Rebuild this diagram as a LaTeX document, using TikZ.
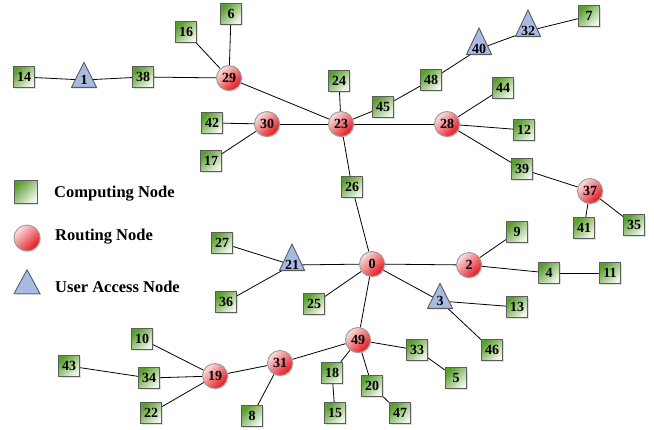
\documentclass[tikz,border=0pt]{standalone}
\usepackage{fontspec}
\setmainfont{Liberation Serif}
\usetikzlibrary{shapes.geometric,shadows}
\definecolor{cgreen}{HTML}{5A9E2F}
\definecolor{cgreenlt}{HTML}{F0F8EA}
\definecolor{cred}{HTML}{E5131B}
\definecolor{credlt}{HTML}{FBE0E0}
\definecolor{cblue}{HTML}{A7BBE3}
\definecolor{cedge}{HTML}{5C5C5C}
\pgfdeclarelayer{bg}
\pgfsetlayers{bg,main}
\tikzset{
  lbl/.style={font=\fontsize{14}{14}\selectfont\bfseries, text=black},
  shade/.style={drop shadow={shadow xshift=1.2pt, shadow yshift=-1.2pt, opacity=0.25}},
  comp/.style={lbl, shade, rectangle, minimum size=21pt, inner sep=0pt, draw=cedge, line width=0.9pt,
    top color=cgreen, bottom color=cgreenlt, shading angle=45},
  rout/.style={lbl, shade, circle, minimum size=25pt, inner sep=0pt, draw=gray!80, line width=0.9pt,
    top color=credlt, bottom color=cred, shading angle=45},
  uacc/.style={lbl, shade, isosceles triangle, shape border rotate=90, isosceles triangle stretches,
    minimum width=25pt, minimum height=25pt, inner sep=0pt,
    draw=cedge, line width=0.9pt, fill=cblue},
  link/.style={draw=black, line width=0.8pt},
  legtext/.style={font=\fontsize{16.5}{16.5}\selectfont\bfseries, anchor=west, inner sep=0pt}
}
\begin{document}
\begin{tikzpicture}[x=1pt, y=-1pt]
\useasboundingbox (0,0) rectangle (654,429);

% routing nodes
\node[rout] (n0)  at (372,264) {0};
\node[rout] (n2)  at (469,265) {2};
\node[rout] (n19) at (215,376) {19};
\node[rout] (n23) at (341,124) {23};
\node[rout] (n28) at (447,124) {28};
\node[rout] (n29) at (229,78)  {29};
\node[rout] (n30) at (267,124) {30};
\node[rout] (n31) at (280,363) {31};
\node[rout] (n37) at (590,191) {37};
\node[rout] (n49) at (358,340) {49};

% user access nodes
\node[uacc] (n1)  at (84,80)   {1};
\node[uacc] (n3)  at (440,301) {3};
\node[uacc] (n21) at (292,265) {21};
\node[uacc] (n32) at (528,31)  {32};
\node[uacc] (n40) at (479,49)  {40};

% computing nodes
\node[comp] (n4)  at (549,273) {4};
\node[comp] (n5)  at (456,378) {5};
\node[comp] (n6)  at (231,14)  {6};
\node[comp] (n7)  at (589,16)  {7};
\node[comp] (n8)  at (252,416) {8};
\node[comp] (n9)  at (517,232) {9};
\node[comp] (n10) at (142,339) {10};
\node[comp] (n11) at (610,273) {11};
\node[comp] (n12) at (524,130) {12};
\node[comp] (n13) at (517,307) {13};
\node[comp] (n14) at (24,77)   {14};
\node[comp] (n15) at (335,413) {15};
\node[comp] (n16) at (186,32)  {16};
\node[comp] (n17) at (211,161) {17};
\node[comp] (n18) at (332,373) {18};
\node[comp] (n20) at (372,386) {20};
\node[comp] (n22) at (151,413) {22};
\node[comp] (n24) at (339,81)  {24};
\node[comp] (n25) at (314,304) {25};
\node[comp] (n26) at (352,187) {26};
\node[comp] (n27) at (222,243) {27};
\node[comp] (n33) at (417,350) {33};
\node[comp] (n34) at (149,378) {34};
\node[comp] (n35) at (634,225) {35};
\node[comp] (n36) at (226,302) {36};
\node[comp] (n38) at (143,77)  {38};
\node[comp] (n39) at (522,169) {39};
\node[comp] (n41) at (584,228) {41};
\node[comp] (n42) at (212,123) {42};
\node[comp] (n43) at (69,366)  {43};
\node[comp] (n44) at (503,88)  {44};
\node[comp] (n45) at (383,107) {45};
\node[comp] (n46) at (492,350) {46};
\node[comp] (n47) at (400,413) {47};
\node[comp] (n48) at (431,80)  {48};

% legend
\node[comp, minimum size=23pt] (lc) at (25.5,192) {};
\node[rout, minimum size=26pt] (lr) at (27,238) {};
\node[uacc, minimum width=26pt, minimum height=24pt] (lu) at (27,286) {};
\node[legtext] (tc) at (54,194) {Computing Node};
\node[legtext] (tr) at (55,237) {Routing Node};
\node[legtext] (tu) at (55,287) {User Access Node};

% links
\begin{pgfonlayer}{bg}
\foreach \a/\b in {n14/n1, n1/n38, n38/n29, n29/n16, n29/n6, n29/n23,
  n30/n42, n30/n17, n30/n23, n23/n24, n23/n45, n45/n48, n48/n40, n40/n32, n32/n7,
  n23/n28, n28/n44, n28/n12, n28/n39, n39/n37, n37/n41, n37/n35,
  n23/n26, n26/n0, n21/n27, n21/n36, n21/n0, n0/n25, n0/n2, n2/n9, n2/n4, n4/n11,
  n0/n3, n3/n13, n3/n46, n0/n49, n49/n33, n33/n5, n49/n18, n18/n15, n49/n20, n20/n47,
  n49/n31, n31/n19, n31/n8, n19/n10, n19/n34, n34/n43, n19/n22}
  \draw[link] (\a) -- (\b);
\end{pgfonlayer}
\end{tikzpicture}
\end{document}
